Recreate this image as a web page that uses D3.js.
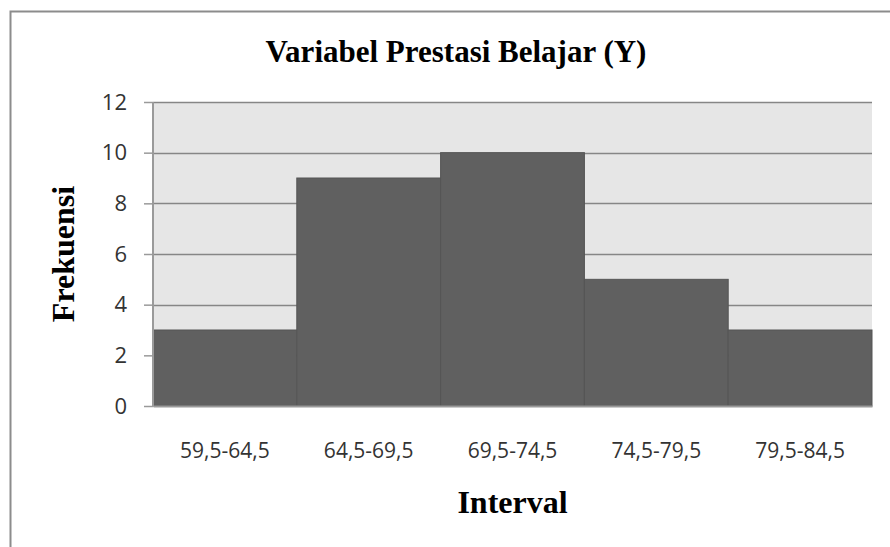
<!DOCTYPE html>
<html>
<head>
<meta charset="utf-8">
<script src="https://cdn.jsdelivr.net/npm/d3@7"></script>
<style>
  body { margin: 0; background: #fff; }
  svg { display: block; }
</style>
</head>
<body>
<div id="chart"></div>
<script>
// data
var intervals = ['59,5-64,5', '64,5-69,5', '69,5-74,5', '74,5-79,5', '79,5-84,5'];
var frekuensi = [3, 9, 10, 5, 3];
var yTicks = [0, 2, 4, 6, 8, 10, 12];

var W = 890, H = 547;
var margin = {top: 102, right: 18, bottom: 141, left: 153};
var w = W - margin.left - margin.right,
    h = H - margin.top - margin.bottom;

var svg = d3.select('#chart').append('svg')
    .attr('width', W)
    .attr('height', H);

// outer frame (only top and left edges visible)
svg.append('path')
    .attr('d', 'M10.5,' + H + 'V11.5H' + W)
    .attr('fill', 'none')
    .attr('stroke', '#8c8c8c')
    .attr('stroke-width', 2);

var g = svg.append('g')
    .attr('transform', 'translate(' + margin.left + ',' + margin.top + ')');

var x = d3.scaleBand().domain(intervals).range([0, w]).padding(0);
var y = d3.scaleLinear().domain([0, 12]).range([h, 0]);

// plot background
g.append('rect')
    .attr('width', w)
    .attr('height', h)
    .attr('fill', '#e6e6e6');

// gridlines
g.selectAll('.grid').data(yTicks.filter(function(d) { return d > 0; }))
  .enter().append('line')
    .attr('class', 'grid')
    .attr('x1', 0).attr('x2', w)
    .attr('y1', function(d) { return Math.round(y(d)) + 0.5; })
    .attr('y2', function(d) { return Math.round(y(d)) + 0.5; })
    .attr('stroke', '#868686')
    .attr('stroke-width', 1.5);

// bars
g.selectAll('.bar').data(frekuensi)
  .enter().append('rect')
    .attr('class', 'bar')
    .attr('x', function(d, i) { return x(intervals[i]); })
    .attr('y', function(d) { return y(d); })
    .attr('width', x.bandwidth())
    .attr('height', function(d) { return h - y(d); })
    .attr('fill', '#606060')
    .attr('stroke', '#555555')
    .attr('stroke-width', 1);

// y axis
var yAxis = g.append('g')
    .call(d3.axisLeft(y).tickValues(yTicks).tickSize(9).tickPadding(17));
yAxis.select('.domain').attr('stroke', '#9a9a9a').attr('stroke-width', 2).attr('d', 'M0,0V' + h);
yAxis.selectAll('.tick line').attr('stroke', '#9a9a9a').attr('stroke-width', 1.5);
yAxis.selectAll('.tick text')
    .attr('fill', '#333')
    .style('font-family', 'Open Sans, sans-serif')
    .style('font-size', '22px');

// x axis
var xAxis = g.append('g')
    .attr('transform', 'translate(0,' + h + ')')
    .call(d3.axisBottom(x).tickSize(0).tickPadding(37));
xAxis.select('.domain').attr('stroke', '#9a9a9a').attr('stroke-width', 2);
xAxis.selectAll('.tick text')
    .attr('fill', '#333')
    .style('font-family', 'Open Sans, sans-serif')
    .style('font-size', '21px');

// titles
svg.append('text')
    .attr('x', 456).attr('y', 62)
    .attr('text-anchor', 'middle')
    .style('font-family', 'Liberation Serif, Times New Roman, serif')
    .style('font-weight', 'bold')
    .style('font-size', '31px')
    .text('Variabel Prestasi Belajar (Y)');

svg.append('text')
    .attr('transform', 'translate(74,' + (margin.top + h / 2) + ') rotate(-90)')
    .attr('text-anchor', 'middle')
    .style('font-family', 'Liberation Serif, Times New Roman, serif')
    .style('font-weight', 'bold')
    .style('font-size', '32px')
    .text('Frekuensi');

svg.append('text')
    .attr('x', margin.left + w / 2).attr('y', 513)
    .attr('text-anchor', 'middle')
    .style('font-family', 'Liberation Serif, Times New Roman, serif')
    .style('font-weight', 'bold')
    .style('font-size', '32px')
    .text('Interval');
</script>
</body>
</html>
